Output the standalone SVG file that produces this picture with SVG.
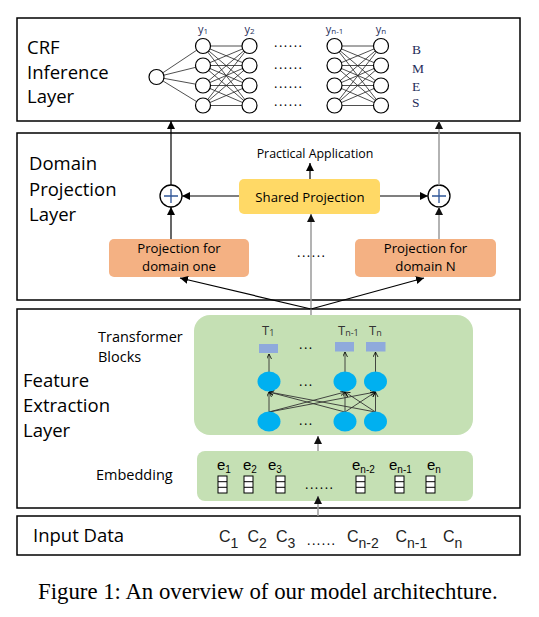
<svg xmlns="http://www.w3.org/2000/svg" width="539" height="617" viewBox="0 0 539 617">
<defs>
<marker id="ah" markerUnits="userSpaceOnUse" markerWidth="9" markerHeight="8" refX="8" refY="4" orient="auto"><path d="M0,0 L8,4 L0,8 z" fill="#000"/></marker>
<marker id="ahg" markerUnits="userSpaceOnUse" markerWidth="9" markerHeight="8" refX="8" refY="4" orient="auto"><path d="M0,0 L8,4 L0,8 z" fill="#111"/></marker>
<marker id="ahs" markerUnits="userSpaceOnUse" markerWidth="6" markerHeight="6" refX="5" refY="2.5" orient="auto"><path d="M0,0 L5,2.5 L0,5" fill="none" stroke="#000" stroke-width="0.8"/></marker>
</defs>
<style>
.frame{fill:none;stroke:#000;stroke-width:1.5}
.lbl{font-family:"Open Sans","Noto Sans",sans-serif;font-size:18.5px;fill:#000}
.mid{font-family:"Open Sans","Noto Sans",sans-serif;font-size:14.5px;fill:#000}
.box{font-family:"Open Sans","Noto Sans",sans-serif;font-size:13.2px;fill:#000;text-anchor:middle}
.small{font-family:"Open Sans","Noto Sans",sans-serif;font-size:12.4px;fill:#000;text-anchor:middle}
.ylab{font-family:"Open Sans","Noto Sans",sans-serif;font-size:11px;fill:#1f2d5a;text-anchor:middle}
.tlab{font-family:"Open Sans","Noto Sans",sans-serif;font-size:13px;fill:#333}
.elab{font-family:"Liberation Sans",Arial,sans-serif;font-size:15px;fill:#000}
.clab{font-family:"Liberation Sans",Arial,sans-serif;font-size:16px;fill:#222}
.serif{font-family:"Liberation Serif","Times New Roman",serif;fill:#1f2d5a;font-size:13.5px}
.dots{font-family:"Open Sans","Noto Sans",sans-serif;font-size:13px;fill:#000;letter-spacing:1.5px}
.node{fill:#fff;stroke:#000;stroke-width:1.2}
.crf line{stroke:#222;stroke-width:0.8}
.conn{stroke:#000;stroke-width:1.2;fill:none}
.conng{stroke:#9a9a9a;stroke-width:1.5;fill:none}
.tl{stroke:#333;stroke-width:0.9;fill:none}
.ell{fill:#00b0f0}
.trect{fill:#8faadc}
.ebox{fill:#fff;stroke:#000;stroke-width:1}
</style>
<rect width="539" height="617" fill="#fff"/>

<g id="crf-layer">
<rect class="frame" x="17" y="18" width="503" height="103"/>
<text class="lbl" x="27" y="54">CRF</text>
<text class="lbl" x="27" y="79">Inference</text>
<text class="lbl" x="27" y="103">Layer</text>
</g>
<g id="crf-network" class="crf">
<line x1="156.5" y1="77" x2="203" y2="46"/><line x1="156.5" y1="77" x2="203" y2="65.5"/><line x1="156.5" y1="77" x2="203" y2="85.5"/><line x1="156.5" y1="77" x2="203" y2="105.5"/>
<line x1="203" y1="46" x2="249.5" y2="46"/><line x1="203" y1="46" x2="249.5" y2="65.5"/><line x1="203" y1="46" x2="249.5" y2="85.5"/><line x1="203" y1="46" x2="249.5" y2="105.5"/>
<line x1="203" y1="65.5" x2="249.5" y2="46"/><line x1="203" y1="65.5" x2="249.5" y2="65.5"/><line x1="203" y1="65.5" x2="249.5" y2="85.5"/><line x1="203" y1="65.5" x2="249.5" y2="105.5"/>
<line x1="203" y1="85.5" x2="249.5" y2="46"/><line x1="203" y1="85.5" x2="249.5" y2="65.5"/><line x1="203" y1="85.5" x2="249.5" y2="85.5"/><line x1="203" y1="85.5" x2="249.5" y2="105.5"/>
<line x1="203" y1="105.5" x2="249.5" y2="46"/><line x1="203" y1="105.5" x2="249.5" y2="65.5"/><line x1="203" y1="105.5" x2="249.5" y2="85.5"/><line x1="203" y1="105.5" x2="249.5" y2="105.5"/>
<line x1="334.5" y1="46" x2="381" y2="46"/><line x1="334.5" y1="46" x2="381" y2="65.5"/><line x1="334.5" y1="46" x2="381" y2="85.5"/><line x1="334.5" y1="46" x2="381" y2="105.5"/>
<line x1="334.5" y1="65.5" x2="381" y2="46"/><line x1="334.5" y1="65.5" x2="381" y2="65.5"/><line x1="334.5" y1="65.5" x2="381" y2="85.5"/><line x1="334.5" y1="65.5" x2="381" y2="105.5"/>
<line x1="334.5" y1="85.5" x2="381" y2="46"/><line x1="334.5" y1="85.5" x2="381" y2="65.5"/><line x1="334.5" y1="85.5" x2="381" y2="85.5"/><line x1="334.5" y1="85.5" x2="381" y2="105.5"/>
<line x1="334.5" y1="105.5" x2="381" y2="46"/><line x1="334.5" y1="105.5" x2="381" y2="65.5"/><line x1="334.5" y1="105.5" x2="381" y2="85.5"/><line x1="334.5" y1="105.5" x2="381" y2="105.5"/>
<circle class="node" cx="156.5" cy="77" r="7.5"/>
<circle class="node" cx="203" cy="46" r="7.5"/><circle class="node" cx="203" cy="65.5" r="7.5"/><circle class="node" cx="203" cy="85.5" r="7.5"/><circle class="node" cx="203" cy="105.5" r="7.5"/>
<circle class="node" cx="249.5" cy="46" r="7.5"/><circle class="node" cx="249.5" cy="65.5" r="7.5"/><circle class="node" cx="249.5" cy="85.5" r="7.5"/><circle class="node" cx="249.5" cy="105.5" r="7.5"/>
<circle class="node" cx="334.5" cy="46" r="7.5"/><circle class="node" cx="334.5" cy="65.5" r="7.5"/><circle class="node" cx="334.5" cy="85.5" r="7.5"/><circle class="node" cx="334.5" cy="105.5" r="7.5"/>
<circle class="node" cx="381" cy="46" r="7.5"/><circle class="node" cx="381" cy="65.5" r="7.5"/><circle class="node" cx="381" cy="85.5" r="7.5"/><circle class="node" cx="381" cy="105.5" r="7.5"/>
<text class="ylab" x="203" y="33">y<tspan font-size="8" dy="1">1</tspan></text>
<text class="ylab" x="249.5" y="33">y<tspan font-size="8" dy="1">2</tspan></text>
<text class="ylab" x="334.5" y="33">y<tspan font-size="8" dy="1">n-1</tspan></text>
<text class="ylab" x="381" y="33">y<tspan font-size="8" dy="1">n</tspan></text>
<text class="dots" x="274" y="47">......</text>
<text class="dots" x="274" y="69">......</text>
<text class="dots" x="274" y="88">......</text>
<text class="dots" x="274" y="106">......</text>
<text class="serif" x="412" y="54">B</text>
<text class="serif" x="412" y="73">M</text>
<text class="serif" x="412" y="91">E</text>
<text class="serif" x="412" y="107">S</text>
</g>

<g id="domain-layer">
<rect class="frame" x="17" y="133" width="503" height="167"/>
<text class="lbl" x="29" y="170">Domain</text>
<text class="lbl" x="29" y="196">Projection</text>
<text class="lbl" x="29" y="221">Layer</text>
<text class="small" x="315" y="158">Practical Application</text>
<text class="dots" x="297" y="257">......</text>
</g>
<g id="shared-projection">
<rect x="239" y="179" width="141" height="35" rx="5" fill="#ffd966"/>
<text class="box" x="310" y="202" font-size="13.5">Shared Projection</text>
</g>
<g id="proj-domain-one">
<rect x="109" y="239" width="140" height="38" rx="5" fill="#f4b183"/>
<text class="box" x="179" y="252.5">Projection for</text>
<text class="box" x="179" y="271">domain one</text>
</g>
<g id="proj-domain-n">
<rect x="355" y="239" width="141" height="38" rx="5" fill="#f4b183"/>
<text class="box" x="425.5" y="252.5">Projection for</text>
<text class="box" x="425.5" y="271">domain N</text>
</g>
<g id="sum-left">
<circle cx="171" cy="196" r="11" fill="#fff" stroke="#000" stroke-width="1.3"/>
<path d="M164,196 H178 M171,189 V203" stroke="#2e5597" stroke-width="1.3"/>
</g>
<g id="sum-right">
<circle cx="439" cy="196" r="11" fill="#fff" stroke="#000" stroke-width="1.3"/>
<path d="M432,196 H446 M439,189 V203" stroke="#2e5597" stroke-width="1.3"/>
</g>

<g id="feature-layer">
<rect class="frame" x="17" y="309" width="503" height="199"/>
<text class="lbl" x="23" y="387">Feature</text>
<text class="lbl" x="23" y="412">Extraction</text>
<text class="lbl" x="23" y="437">Layer</text>
<text class="mid" x="98" y="342">Transformer</text>
<text class="mid" x="98" y="362">Blocks</text>
<text class="mid" x="96" y="480">Embedding</text>
</g>
<g id="transformer-blocks">
<rect x="194" y="315" width="279" height="120" rx="16" fill="#c5e0b4"/>
<text class="tlab" x="262" y="335">T<tspan font-size="9" dy="1">1</tspan></text>
<text class="tlab" x="338" y="335">T<tspan font-size="9" dy="1">n-1</tspan></text>
<text class="tlab" x="369" y="335">T<tspan font-size="9" dy="1">n</tspan></text>
<rect class="trect" x="259" y="344" width="19" height="9"/>
<rect class="trect" x="335" y="342" width="19" height="9.5"/>
<rect class="trect" x="366" y="342" width="19.5" height="9.5"/>
<text class="dots" x="299" y="349" font-size="10" letter-spacing="0">...</text>
<text class="dots" x="299" y="386" font-size="10" letter-spacing="0">...</text>
<text class="dots" x="299" y="425" font-size="10" letter-spacing="0">...</text>
<line class="tl" x1="269" y1="372" x2="269" y2="354" marker-end="url(#ahs)"/>
<line class="tl" x1="345" y1="372" x2="345" y2="352" marker-end="url(#ahs)"/>
<line class="tl" x1="375.5" y1="372" x2="375.5" y2="352" marker-end="url(#ahs)"/>
<line class="tl" x1="269" y1="412" x2="269" y2="392" marker-end="url(#ahs)"/>
<line class="tl" x1="269" y1="412" x2="345" y2="392" marker-end="url(#ahs)"/>
<line class="tl" x1="269" y1="412" x2="375.5" y2="392" marker-end="url(#ahs)"/>
<line class="tl" x1="345" y1="412" x2="269" y2="392" marker-end="url(#ahs)"/>
<line class="tl" x1="345" y1="412" x2="345" y2="392" marker-end="url(#ahs)"/>
<line class="tl" x1="345" y1="412" x2="375.5" y2="392" marker-end="url(#ahs)"/>
<line class="tl" x1="375.5" y1="412" x2="269" y2="392" marker-end="url(#ahs)"/>
<line class="tl" x1="375.5" y1="412" x2="345" y2="392" marker-end="url(#ahs)"/>
<line class="tl" x1="375.5" y1="412" x2="375.5" y2="392" marker-end="url(#ahs)"/>
<ellipse class="ell" cx="269" cy="381.5" rx="11.5" ry="10"/>
<ellipse class="ell" cx="345" cy="381.5" rx="11.5" ry="10"/>
<ellipse class="ell" cx="375.5" cy="381.5" rx="11.5" ry="10"/>
<ellipse class="ell" cx="269" cy="421.5" rx="11.5" ry="10"/>
<ellipse class="ell" cx="345" cy="421.5" rx="11.5" ry="10"/>
<ellipse class="ell" cx="375.5" cy="421.5" rx="11.5" ry="10"/>
</g>
<g id="embedding">
<rect x="197" y="451" width="276" height="50" rx="8" fill="#c5e0b4"/>
<text class="elab" x="217" y="470">e<tspan font-size="10" dy="2.5">1</tspan></text>
<text class="elab" x="243" y="470">e<tspan font-size="10" dy="2.5">2</tspan></text>
<text class="elab" x="268" y="470">e<tspan font-size="10" dy="2.5">3</tspan></text>
<text class="elab" x="352" y="470">e<tspan font-size="10" dy="2.5">n-2</tspan></text>
<text class="elab" x="389" y="470">e<tspan font-size="10" dy="2.5">n-1</tspan></text>
<text class="elab" x="427" y="470">e<tspan font-size="10" dy="2.5">n</tspan></text>
<g class="ebox">
<rect x="218" y="476" width="9" height="17"/><path d="M218,481.7 H227 M218,487.3 H227"/>
<rect x="244" y="476" width="9" height="17"/><path d="M244,481.7 H253 M244,487.3 H253"/>
<rect x="276" y="476" width="9" height="17"/><path d="M276,481.7 H285 M276,487.3 H285"/>
<rect x="356" y="476" width="9" height="17"/><path d="M356,481.7 H365 M356,487.3 H365"/>
<rect x="395" y="476" width="9" height="17"/><path d="M395,481.7 H404 M395,487.3 H404"/>
<rect x="426" y="476" width="9" height="17"/><path d="M426,481.7 H435 M426,487.3 H435"/>
</g>
<text class="dots" x="305" y="489" font-size="11" letter-spacing="0.5">......</text>
</g>

<g id="input-data">
<rect class="frame" x="17" y="516" width="503" height="39"/>
<text class="lbl" x="33" y="542" font-size="17.5">Input Data</text>
<text class="clab" x="219" y="542">C<tspan font-size="14" dy="6">1</tspan></text>
<text class="clab" x="247.5" y="542">C<tspan font-size="14" dy="6">2</tspan></text>
<text class="clab" x="276" y="542">C<tspan font-size="14" dy="6">3</tspan></text>
<text class="dots" x="307" y="545" font-size="11" letter-spacing="0.5">......</text>
<text class="clab" x="347" y="542">C<tspan font-size="14" dy="6">n-2</tspan></text>
<text class="clab" x="395.5" y="542">C<tspan font-size="14" dy="6">n-1</tspan></text>
<text class="clab" x="443" y="542">C<tspan font-size="14" dy="6">n</tspan></text>
</g>

<g id="connectors">
<line class="conn" x1="171" y1="185" x2="171" y2="121" marker-end="url(#ah)"/>
<line class="conng" x1="439" y1="185" x2="439" y2="121" marker-end="url(#ahg)"/>
<line class="conn" x1="310" y1="179" x2="310" y2="163" stroke="#444" marker-end="url(#ah)"/>
<line class="conn" x1="239" y1="196" x2="182" y2="196" marker-end="url(#ah)"/>
<line class="conn" x1="380" y1="196" x2="428" y2="196" marker-end="url(#ah)"/>
<line class="conn" x1="171" y1="239" x2="171" y2="207" marker-end="url(#ah)"/>
<line class="conng" x1="439" y1="239" x2="439" y2="207" marker-end="url(#ahg)"/>
<line class="conng" x1="311" y1="315" x2="311" y2="214" marker-end="url(#ahg)"/>
<line class="conn" x1="311" y1="309" x2="180" y2="278" stroke-width="1" marker-end="url(#ah)"/>
<line class="conn" x1="311" y1="309" x2="424" y2="278" stroke-width="1" marker-end="url(#ah)"/>
<line class="conng" x1="318" y1="451" x2="318" y2="436" stroke="#888" marker-end="url(#ahg)"/>
<line class="conng" x1="318" y1="516" x2="318" y2="496" stroke="#888" marker-end="url(#ahg)"/>
</g>

<text x="38" y="599" font-family="'Liberation Serif','Times New Roman',serif" font-size="22.8" fill="#000">Figure 1: An overview of our model architechture.</text>
</svg>
